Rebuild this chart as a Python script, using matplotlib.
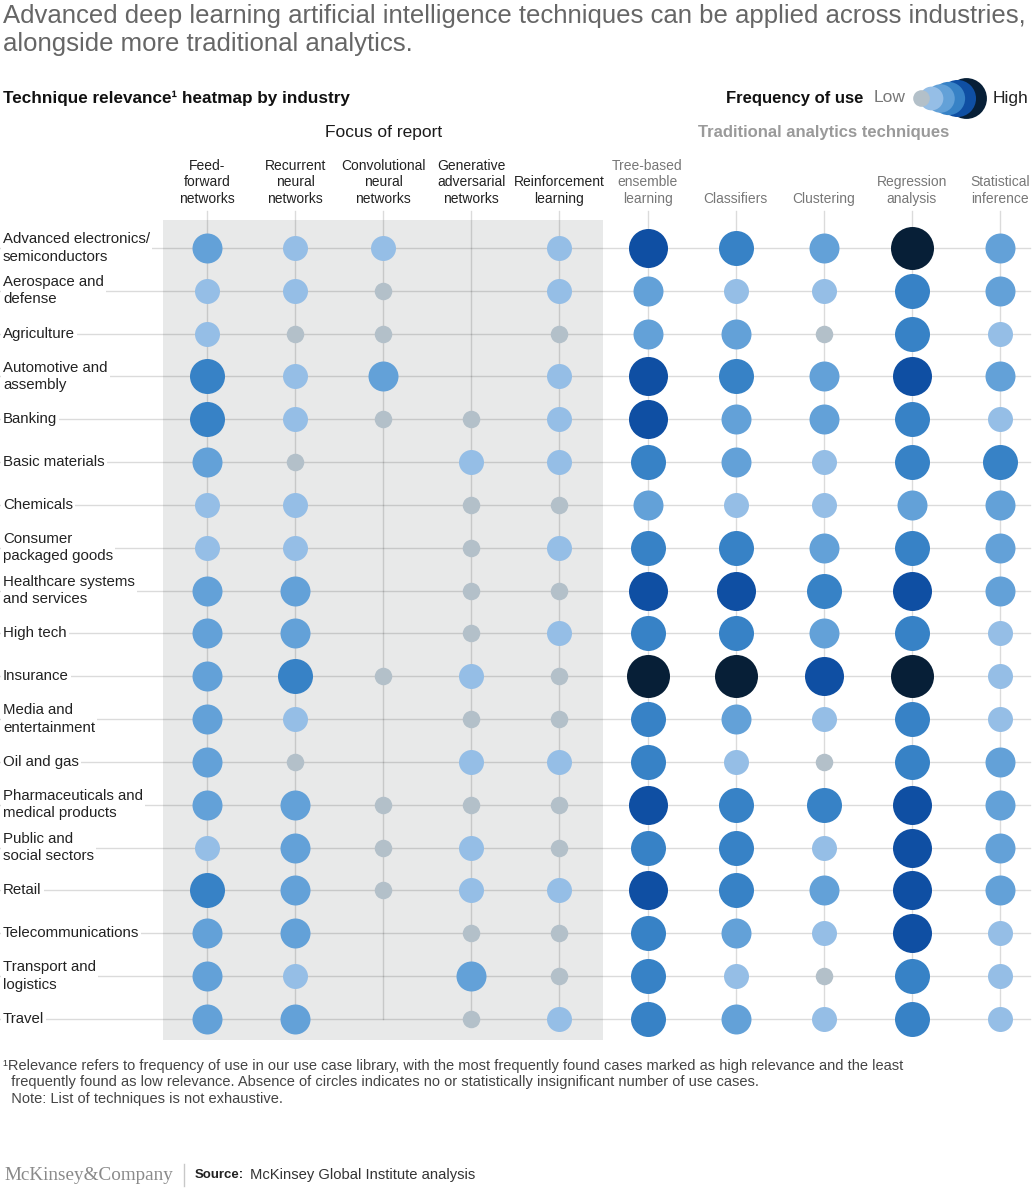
import numpy as np
import matplotlib.pyplot as plt
from matplotlib.patches import Rectangle

plt.rcParams['font.family'] = ['Liberation Sans', 'DejaVu Sans']

# 行业（行）
industries = [
    "Advanced electronics/\nsemiconductors", "Aerospace and\ndefense", "Agriculture",
    "Automotive and\nassembly", "Banking", "Basic materials", "Chemicals",
    "Consumer\npackaged goods", "Healthcare systems\nand services", "High tech",
    "Insurance", "Media and\nentertainment", "Oil and gas",
    "Pharmaceuticals and\nmedical products", "Public and\nsocial sectors", "Retail",
    "Telecommunications", "Transport and\nlogistics", "Travel",
]

# 技术（列）
deep_techniques = ["Feed-\nforward\nnetworks", "Recurrent\nneural\nnetworks",
                   "Convolutional\nneural\nnetworks", "Generative\nadversarial\nnetworks",
                   "Reinforcement\nlearning"]
trad_techniques = ["Tree-based\nensemble\nlearning", "Classifiers", "Clustering",
                   "Regression\nanalysis", "Statistical\ninference"]

# 使用频率等级：0 = 无, 1 = 低 ... 6 = 高
deep_levels = [
    [3, 2, 2, 0, 2],
    [2, 2, 1, 0, 2],
    [2, 1, 1, 0, 1],
    [4, 2, 3, 0, 2],
    [4, 2, 1, 1, 2],
    [3, 1, 0, 2, 2],
    [2, 2, 0, 1, 1],
    [2, 2, 0, 1, 2],
    [3, 3, 0, 1, 1],
    [3, 3, 0, 1, 2],
    [3, 4, 1, 2, 1],
    [3, 2, 0, 1, 1],
    [3, 1, 0, 2, 2],
    [3, 3, 1, 1, 1],
    [2, 3, 1, 2, 1],
    [4, 3, 1, 2, 2],
    [3, 3, 0, 1, 1],
    [3, 2, 0, 3, 1],
    [3, 3, 0, 1, 2],
]
trad_levels = [
    [5, 4, 3, 6, 3],
    [3, 2, 2, 4, 3],
    [3, 3, 1, 4, 2],
    [5, 4, 3, 5, 3],
    [5, 3, 3, 4, 2],
    [4, 3, 2, 4, 4],
    [3, 2, 2, 3, 3],
    [4, 4, 3, 4, 3],
    [5, 5, 4, 5, 3],
    [4, 4, 3, 4, 2],
    [6, 6, 5, 6, 2],
    [4, 3, 2, 4, 2],
    [4, 2, 1, 4, 3],
    [5, 4, 4, 5, 3],
    [4, 4, 2, 5, 3],
    [5, 4, 3, 5, 3],
    [4, 3, 2, 5, 2],
    [4, 2, 1, 4, 2],
    [4, 3, 2, 4, 2],
]

level_colors = {1: '#b3c0c9', 2: '#95bee6', 3: '#63a1d8', 4: '#3782c6', 5: '#0f4fa3', 6: '#071f37'}
level_diam = {1: 17.5, 2: 25, 3: 30, 4: 35, 5: 39, 6: 43}   # 像素直径

W, H = 1036, 1200
x0, dx = 207, 88.1     # 第一列中心与列间距（像素）
y0, dy = 248, 42.83    # 第一行中心与行间距（像素）

def fx(p):
    return (p - x0) / dx

def fy(p):
    return (p - y0) / dy

def size(d):
    return (d * 72 / 100) ** 2

fig = plt.figure(figsize=(W / 100, H / 100), dpi=100)
ax = fig.add_axes([0, 0, 1, 1])
ax.set_xlim(fx(0), fx(W))
ax.set_ylim(fy(H), fy(0))
ax.axis('off')

levels = np.hstack([np.array(deep_levels), np.array(trad_levels)])
n_rows, n_cols = levels.shape

# 灰色背景（重点技术）
ax.add_patch(Rectangle((-0.5, fy(220)), len(deep_techniques), fy(1040) - fy(220),
                       facecolor='#e8e9e9', edgecolor='none', zorder=0))

# 网格线
for i in range(n_cols):
    ax.plot([i, i], [fy(211), n_rows - 1], color='black', alpha=0.14, lw=1, zorder=1)
for j in range(n_rows):
    ax.plot([fx(0), fx(1030)], [j, j], color='black', alpha=0.14, lw=1, zorder=1)

# 圆点
rows, cols = np.indices(levels.shape)
for lv in range(1, 7):
    m = levels == lv
    ax.scatter(cols[m], rows[m], s=size(level_diam[lv]), color=level_colors[lv],
               linewidths=0, zorder=3)

# 行标签
for j, name in enumerate(industries):
    ax.text(fx(3), j, name, ha='left', va='center', fontsize=10.8, color='#222222',
            linespacing=1.3, zorder=4,
            bbox=dict(facecolor='white', edgecolor='none', pad=1.5))

# 列标题
for i, name in enumerate(deep_techniques):
    ax.text(i, fy(206), name, ha='center', va='bottom', fontsize=10, color='#222222',
            linespacing=1.25)
for i, name in enumerate(trad_techniques):
    ax.text(i + len(deep_techniques), fy(206), name, ha='center', va='bottom',
            fontsize=10, color='#777777', linespacing=1.25)

ax.text(fx(384), fy(133), "Focus of report", ha='center', va='center', fontsize=12.5,
        color='#1a1a1a')
ax.text(fx(824), fy(133), "Traditional analytics techniques", ha='center', va='center',
        fontsize=12, color='#9a9a9a', fontweight='bold')

# 标题
ax.text(fx(3), fy(4), "Advanced deep learning artificial intelligence techniques can be applied across industries,\n"
        "alongside more traditional analytics.", ha='left', va='top', fontsize=18.5,
        color='#666666', linespacing=1.22)
ax.text(fx(3), fy(98), "Technique relevance\u00b9 heatmap by industry", ha='left', va='center',
        fontsize=12.3, fontweight='bold', color='#111111')

# 图例
ax.text(fx(863), fy(98), "Frequency of use", ha='right', va='center', fontsize=12,
        fontweight='bold', color='#111111')
ax.text(fx(874), fy(98), "Low", ha='left', va='center', fontsize=12.5, color='#777777')
ax.text(fx(993), fy(98), "High", ha='left', va='center', fontsize=12.5, color='#222222')
leg_x = [921, 931, 940, 948, 957, 966]
for lv in range(6, 0, -1):
    ax.scatter([fx(leg_x[lv - 1])], [fy(98)], s=size(level_diam[lv] * 0.95),
               color=level_colors[lv], linewidths=0, zorder=3)

# 脚注
ax.text(fx(3), fy(1059), "\u00b9Relevance refers to frequency of use in our use case library, with the most frequently found cases marked as high relevance and the least\n"
        "  frequently found as low relevance. Absence of circles indicates no or statistically insignificant number of use cases.\n"
        "  Note: List of techniques is not exhaustive.", ha='left', va='top', fontsize=10.5,
        color='#444444', linespacing=1.22)

ax.text(fx(4), fy(1175), "McKinsey&Company", ha='left', va='center', fontsize=13.8,
        family='Liberation Serif', color='#8a8a8a')
ax.plot([fx(184), fx(184)], [fy(1164), fy(1186)], color='#c8c8c8', lw=1)
ax.text(fx(195), fy(1175), "Source:", ha='left', va='center', fontsize=9.5,
        fontweight='bold', color='#222222')
ax.text(fx(250), fy(1175), "McKinsey Global Institute analysis", ha='left', va='center',
        fontsize=10.6, color='#333333')

fig.savefig('out.png', dpi=100)
